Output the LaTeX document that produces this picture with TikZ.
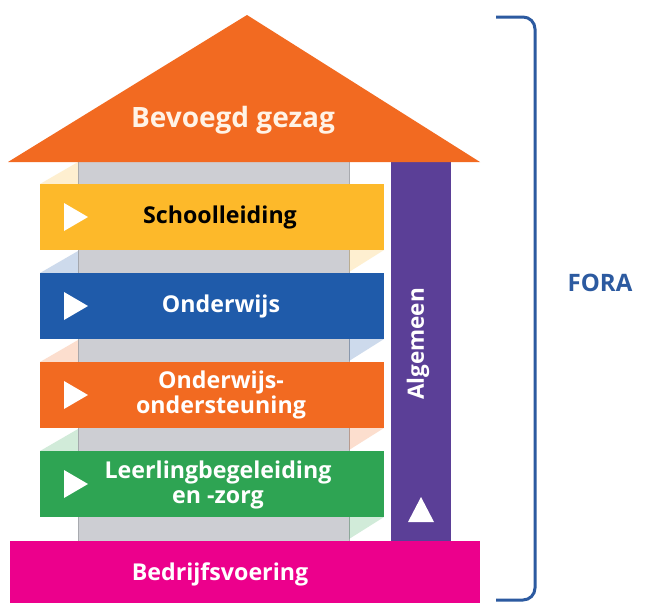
\documentclass[tikz,border=0pt]{standalone}
\usepackage{fontspec}
\setmainfont{Open Sans}
\definecolor{roofor}{HTML}{F26A21}
\definecolor{cyellow}{HTML}{FDB92A}
\definecolor{cblue}{HTML}{1F5BAA}
\definecolor{corange}{HTML}{F26A21}
\definecolor{cgreen}{HTML}{2EA453}
\definecolor{cmag}{HTML}{EC008C}
\definecolor{cpurple}{HTML}{5B3F97}
\definecolor{cgray}{HTML}{CDCED3}
\definecolor{cgrayedge}{HTML}{A8AAAF}
\definecolor{cfora}{HTML}{2C5AA0}
\definecolor{cream}{HTML}{FFF3E6}
\begin{document}
\begin{tikzpicture}[x=1pt,y=-1pt]
\tikzset{
  band/.style={draw=none, inner sep=0pt, minimum width=344pt, minimum height=66pt},
  lbl/.style={font=\bfseries\fontsize{23.2}{24.5}\selectfont, text=white, align=center, inner sep=0pt},
  shade/.style={opacity=0.22},
  bracketline/.style={draw=cfora, line width=3pt, rounded corners=12pt},
}
\useasboundingbox (0,0) rectangle (645,603);
\fill[white] (0,0) rectangle (645,603);
% gray column
\fill[cgray] (78,162) rectangle (349,541);
\draw[cgrayedge, line width=0.8pt] (78,162) -- (78,541) (349,162) -- (349,541);
% pale perspective shadows
\fill[cyellow, shade] (40,184) -- (78,184) -- (78,162) -- cycle;
\fill[cyellow, shade] (349,250) -- (384,250) -- (349,272) -- cycle;
\fill[cblue, shade] (40,273) -- (78,273) -- (78,251) -- cycle;
\fill[cblue, shade] (349,339) -- (384,339) -- (349,361) -- cycle;
\fill[corange, shade] (40,362) -- (78,362) -- (78,340) -- cycle;
\fill[corange, shade] (349,428) -- (384,428) -- (349,450) -- cycle;
\fill[cgreen, shade] (40,451) -- (78,451) -- (78,429) -- cycle;
\fill[cgreen, shade] (349,517) -- (384,517) -- (349,539) -- cycle;
% bands
\node[band, fill=cyellow] (s) at (212,217) {};
\node[band, fill=cblue] (o) at (212,306) {};
\node[band, fill=corange] (os) at (212,395) {};
\node[band, fill=cgreen] (l) at (212,484) {};
\node[lbl, text=black] (ts) at (220,217) {Schoolleiding};
\node[lbl] (to) at (221,306) {Onderwijs};
\node[lbl] (tos) at (221,395) {Onderwijs-\\ondersteuning};
\node[lbl] (tl) at (218,485) {Leerlingbegeleiding\\en -zorg};
% play triangles
\foreach \cy in {217,306,395,484}{
  \fill[white] (64,\cy-14) -- (88,\cy) -- (64,\cy+14) -- cycle;
}
% purple bar
\node[draw=none, fill=cpurple, inner sep=0pt, minimum width=60pt, minimum height=379pt] (alg) at (421,351.5) {};
\node[lbl, rotate=90, font=\bfseries\fontsize{22.5}{24}\selectfont] (talg) at (418,344) {Algemeen};
\fill[white] (408,522) -- (434,522) -- (421,497) -- cycle;
% roof
\fill[roofor] (8,162) -- (247,15) -- (480,162) -- cycle;
\node[lbl, text=cream, font=\bfseries\fontsize{28}{30}\selectfont] (roof) at (233,120) {Bevoegd gezag};
% base
\node[draw=none, fill=cmag, inner sep=0pt, minimum width=470pt, minimum height=62pt] (b) at (245,572) {};
\node[lbl] (tb) at (220,574) {Bedrijfsvoering};
% bracket
\draw[bracketline] (496,17) -- (535,17) -- (535,600) -- (496,600);
\node[lbl, text=cfora, font=\bfseries\fontsize{24}{26}\selectfont] (fora) at (600,283) {FORA};
\end{tikzpicture}
\end{document}
